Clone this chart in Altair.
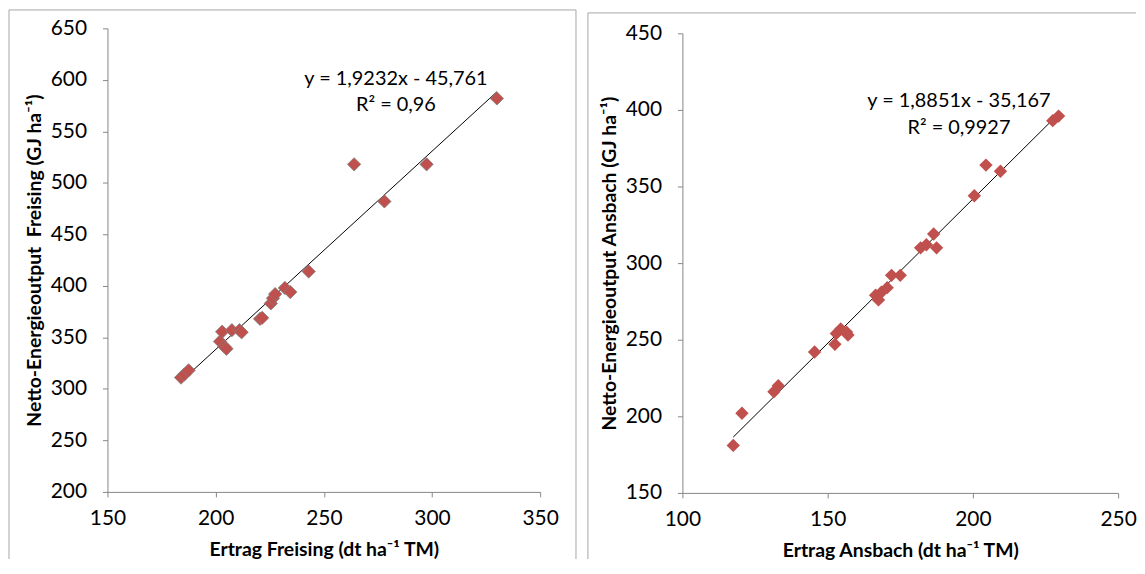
import altair as alt
import pandas as pd

# ---------------- data ----------------
freising_x = [184, 185.5, 187.5, 202, 204, 205, 203, 207.5, 211, 212, 220.5, 221.5,
              225.5, 226.5, 227.5, 232, 234.5, 243, 264, 278, 297.5, 330]
freising_y = [311, 314, 318, 346, 341, 339, 355.5, 357, 357, 355, 368, 369,
              383, 388, 392, 398, 394, 414, 518, 482, 518, 582]

ansbach_x = [117.5, 120.5, 131.5, 133, 145.5, 152.5, 153, 154.5, 156.5, 157, 166.5, 167.5,
             168.5, 170.5, 172, 175, 182, 184, 186.5, 187.5, 200.5, 204.5, 209.5, 227.5, 229.5]
ansbach_y = [181, 202, 216, 220, 242, 247, 254, 257, 255, 253, 279, 276,
             281, 284, 292, 292, 310, 312, 319, 310, 344, 364, 360, 393, 396]

freising_xticks = [150, 200, 250, 300, 350]
freising_yticks = [200, 250, 300, 350, 400, 450, 500, 550, 600, 650]
ansbach_xticks = [100, 150, 200, 250]
ansbach_yticks = [150, 200, 250, 300, 350, 400, 450]

freising_eq = ["y = 1,9232x - 45,761", "R\u00b2 = 0,96"]
ansbach_eq = ["y = 1,8851x - 35,167", "R\u00b2 = 0,9927"]

FONT = "Lato"
RED = "#C0504D"
AXIS_GREY = "#868686"
FRAME_GREY = "#A6A6A6"

one = alt.Data(values=[{}])


def hrule(x1, x2, y):
    return alt.Chart(one).mark_rule(color=FRAME_GREY, strokeWidth=1).encode(
        x=alt.value(x1), x2=alt.value(x2), y=alt.value(y))


def vrule(x, y1, y2):
    return alt.Chart(one).mark_rule(color=FRAME_GREY, strokeWidth=1).encode(
        x=alt.value(x), y=alt.value(y1), y2=alt.value(y2))


def label(text, x, y):
    return alt.Chart(one).mark_text(font=FONT, fontSize=20, color="black",
                                    align="center", baseline="middle").encode(
        x=alt.value(x), y=alt.value(y), text=alt.value(text))


def panel(xs, ys, xticks, yticks, xtitle, ytitle, eq, eqpos, w, h, outline, frames):
    df = pd.DataFrame({"x": xs, "y": ys})
    xenc = alt.X("x:Q", scale=alt.Scale(domain=[xticks[0], xticks[-1]], nice=False, zero=False),
                 axis=alt.Axis(values=xticks, title=xtitle, labelPadding=11, titlePadding=12,
                               labelFlush=False))
    yenc = alt.Y("y:Q", scale=alt.Scale(domain=[yticks[0], yticks[-1]], nice=False, zero=False),
                 axis=alt.Axis(values=yticks, title=ytitle, labelPadding=16, titlePadding=6,
                               labelFlush=False))
    base = alt.Chart(df)
    if outline:
        pts = base.mark_point(shape="diamond", filled=True, size=180, color=RED, opacity=1,
                              stroke="#7F7F7F", strokeWidth=0.75)
    else:
        pts = base.mark_point(shape="diamond", filled=True, size=180, color=RED, opacity=1)
    pts = pts.encode(x=xenc, y=yenc)
    trend = base.transform_regression("x", "y").mark_line(color="black", strokeWidth=1).encode(
        x="x:Q", y="y:Q")
    layers = [trend, pts,
              label(eq[0], eqpos[0], eqpos[1]),
              label(eq[1], eqpos[0], eqpos[2])] + frames
    return alt.layer(*layers).properties(width=w, height=h)


left = panel(freising_x, freising_y, freising_xticks, freising_yticks,
             "Ertrag Freising (dt ha\u207b\u00b9 TM)",
             "Netto-Energieoutput\u00a0 Freising (GJ ha\u207b\u00b9)",
             freising_eq, (290, 50.5, 77), 435, 466, True,
             [hrule(-99, 471, -18.5), vrule(-99, -18.5, 533.5), vrule(471, -18.5, 533.5)])

right = panel(ansbach_x, ansbach_y, ansbach_xticks, ansbach_yticks,
              "Ertrag Ansbach (dt ha\u207b\u00b9 TM)",
              "Netto-Energieoutput Ansbach (GJ ha\u207b\u00b9)",
              ansbach_eq, (278, 68.5, 95), 438, 462, False,
              [hrule(-95, 456, -20.5), vrule(-95, -20.5, 528.5)])

spacer = alt.Chart(one).mark_point(opacity=0).encode(
    x=alt.value(0), y=alt.value(0)).properties(width=1, height=5)

right_group = alt.vconcat(spacer, right, spacing=0, bounds="flush")

chart = alt.hconcat(left, right_group, spacing=10).properties(
    padding=0, background="white"
).configure_view(stroke=None).configure_axis(
    grid=False,
    domainColor=AXIS_GREY, tickColor=AXIS_GREY, tickSize=5, domainWidth=1, tickWidth=1,
    labelFont=FONT, labelFontSize=21, labelColor="black",
    titleFont=FONT, titleFontSize=19.5, titleFontWeight="bold", titleColor="black",
)

chart.save("out.html", embed_options={"renderer": "svg", "actions": False})
